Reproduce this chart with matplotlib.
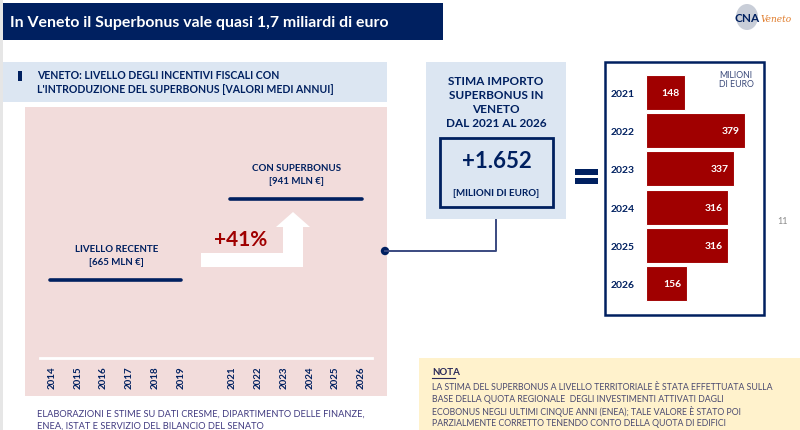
import matplotlib
matplotlib.use("Agg")
import matplotlib.pyplot as plt
from matplotlib import font_manager
from matplotlib.patches import Rectangle, Polygon, Circle, Ellipse

# ---- data ----
recent_years = [2014, 2015, 2016, 2017, 2018, 2019]
superbonus_years = [2021, 2022, 2023, 2024, 2025, 2026]
recent_level = 665        # MLN euro, average per year
superbonus_level = 941    # MLN euro, average per year
annual_years = ["2021", "2022", "2023", "2024", "2025", "2026"]
annual_values = [148, 379, 337, 316, 316, 156]

title = "In Veneto il Superbonus vale quasi 1,7 miliardi di euro"
subtitle = ("VENETO: LIVELLO DEGLI INCENTIVI FISCALI CON\n"
            "L'INTRODUZIONE DEL SUPERBONUS [VALORI MEDI ANNUI]")
source = ("ELABORAZIONI E STIME SU DATI CRESME, DIPARTIMENTO DELLE FINANZE,\n"
          "ENEA, ISTAT E SERVIZIO DEL BILANCIO DEL SENATO")
note = ("LA STIMA DEL SUPERBONUS A LIVELLO TERRITORIALE È STATA EFFETTUATA SULLA\n"
        "BASE DELLA QUOTA REGIONALE  DEGLI INVESTIMENTI ATTIVATI DAGLI\n"
        "ECOBONUS NEGLI ULTIMI CINQUE ANNI (ENEA); TALE VALORE È STATO POI\n"
        "PARZIALMENTE CORRETTO TENENDO CONTO DELLA QUOTA DI EDIFICI")

NAVY = "#002060"
RED = "#a00000"
PINK = "#f2dcdb"
LIGHT_BLUE = "#dce6f2"
NOTE_BG = "#fff2cc"

installed = {f.name for f in font_manager.fontManager.ttflist}
TITLE_FONT = "Liberation Sans Narrow" if "Liberation Sans Narrow" in installed else "Lato"
plt.rcParams["font.family"] = "Lato"

W, H = 800, 431
fig = plt.figure(figsize=(8, 4.31), dpi=100)


def frac(x0, y0, x1, y1):
    # pixel box (top-left origin) -> figure fraction rect
    return [x0 / W, 1 - y1 / H, (x1 - x0) / W, (y1 - y0) / H]


# background / decoration layer in pixel coordinates
bg = fig.add_axes([0, 0, 1, 1])
bg.set_xlim(0, W)
bg.set_ylim(H, 0)
bg.axis("off")


def box(x0, y0, x1, y1, **kw):
    bg.add_patch(Rectangle((x0, y0), x1 - x0, y1 - y0, **kw))


box(0, 0, 3, H, color="#e6e6e6", lw=0)

# title bar
box(3, 4, 443, 41, color=NAVY, lw=0)
bg.text(10, 22.5, title, color="white", fontsize=11.4, fontweight="bold",
        family=TITLE_FONT, va="center", ha="left")

# logo
bg.add_patch(Ellipse((747, 18), 22, 26, color="#c9ced8", lw=0))
bg.text(747, 18, "CNA", color=NAVY, fontsize=8.5, fontweight="bold",
        ha="center", va="center")
bg.text(761, 19, "Veneto", color="#e07b2a", fontsize=6.5, style="italic",
        family="DejaVu Serif", ha="left", va="center")

# subtitle box
box(3, 63, 387, 103, color=LIGHT_BLUE, lw=0)
box(18, 72, 22, 82, color=NAVY, lw=0)
bg.text(37, 82.5, subtitle, color=NAVY, fontsize=7.6, fontweight="bold",
        ha="left", va="center", linespacing=1.3)

# pink panel
box(25, 108, 387, 397, color=PINK, lw=0)

# white step arrow
bg.add_patch(Polygon([(201, 254), (283, 254), (283, 228), (276, 228), (293, 213),
                      (310, 228), (303, 228), (303, 268), (201, 268)],
                     closed=True, color="white", lw=0))
growth = (superbonus_level / recent_level - 1) * 100
bg.text(241, 240, f"+{int(growth)}%", color=RED, fontsize=15, fontweight="bold",
        ha="center", va="center")

# connector
bg.plot([385, 496, 496], [252, 252, 221], color="#3a4a80", lw=1.4)
bg.add_patch(Circle((385, 252), 4.2, color=NAVY, lw=0))

# middle box
box(426, 63, 566, 220, color=LIGHT_BLUE, lw=0)
bg.text(496, 102.5, "STIMA IMPORTO\nSUPERBONUS IN\nVENETO\nDAL 2021 AL 2026",
        color=NAVY, fontsize=8.5, fontweight="bold", ha="center", va="center",
        linespacing=1.33)
box(440, 139, 553, 208, facecolor="none", edgecolor=NAVY, lw=2)
total = sum(annual_values)
bg.text(496.5, 162, "+" + f"{total:,}".replace(",", "."), color=NAVY, fontsize=16,
        fontweight="bold", ha="center", va="center")
bg.text(496.5, 194, "[MILIONI DI EURO]", color=NAVY, fontsize=7, fontweight="bold",
        ha="center", va="center")

# equals sign
box(575, 170, 598, 176, color=NAVY, lw=0)
box(575, 179, 598, 185, color=NAVY, lw=0)

# right box
box(605, 63, 764, 316, facecolor="white", edgecolor=NAVY, lw=1.8)
bg.text(736, 80, "MILIONI\nDI EURO", color="#3b4a7a", fontsize=6.3,
        ha="center", va="center", linespacing=1.1)

bg.text(783, 222, "11", color="#8a8a8a", fontsize=6.5, ha="center", va="center")

# source
bg.text(37, 420, source, color="#403a80", fontsize=6.7, ha="left", va="center",
        linespacing=1.35)

# note box
box(419, 359, 800, 440, color=NOTE_BG, lw=0)
bg.text(432, 373, "NOTA", color="#2a2a5a", fontsize=7, fontweight="bold",
        ha="left", va="center")
bg.plot([432, 455], [378.5, 378.5], color="#2a2a5a", lw=0.8)
bg.text(432, 383.5, note, color="#4a4a70", fontsize=6.3, ha="left", va="top",
        linespacing=1.3)

# ---- timeline: average level before / with the Superbonus ----
tl = fig.add_axes(frac(25, 108, 387, 397))
tl.patch.set_alpha(0)
tl.axis("off")
tl.set_xlim(2012.95, 2027.0)
tl.set_ylim(270, 1254)

for years, level, label in [
    (recent_years, recent_level, "LIVELLO RECENTE"),
    (superbonus_years, superbonus_level, "CON SUPERBONUS"),
]:
    tl.plot([years[0] - 0.09, years[-1] + 0.02], [level, level], color=NAVY, lw=2.6,
            solid_capstyle="round")
    tl.annotate(f"{label}\n[{level} MLN €]", xy=((years[0] + years[-1]) / 2, level),
                xytext=(0, 10), textcoords="offset points", ha="center", va="bottom",
                fontsize=7, fontweight="bold", color=NAVY, linespacing=1.6)

xt = tl.get_xaxis_transform()
tl.plot([2013.53, 2026.43], [0.131, 0.131], transform=xt, color="white", lw=2)
for yr in recent_years + superbonus_years:
    tl.text(yr, 0.107, str(yr), transform=xt, rotation=90, ha="center", va="top",
            fontsize=7, fontweight="bold", color=NAVY)

# ---- annual Superbonus estimate bars ----
bx = fig.add_axes(frac(646, 74.4, 764, 303.6))
bx.patch.set_alpha(0)
bx.barh(range(len(annual_values)), annual_values, height=0.92, color=RED,
        edgecolor="white", lw=0.8)
bx.set_xlim(0, 452)
bx.set_ylim(len(annual_values) - 0.5, -0.5)
bx.set_yticks(range(len(annual_years)), annual_years)
bx.set_xticks([])
bx.tick_params(axis="y", length=0, pad=8, labelsize=7.5, labelcolor=NAVY)
for lab in bx.get_yticklabels():
    lab.set_fontweight("bold")
for s in bx.spines.values():
    s.set_visible(False)
for i, v in enumerate(annual_values):
    bx.annotate(str(v), xy=(v, i), xytext=(-4, 0), textcoords="offset points",
                ha="right", va="center", color="white", fontsize=7.5, fontweight="bold")

fig.savefig("out.png", dpi=100)
